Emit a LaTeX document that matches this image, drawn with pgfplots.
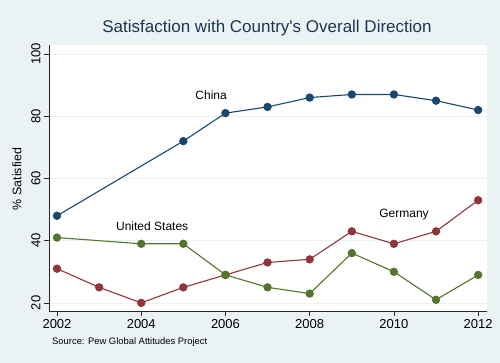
\documentclass[border=0pt]{standalone}
\usepackage{pgfplots}
\pgfplotsset{compat=1.18}
\usepackage{fontspec}
\setmainfont{Liberation Sans}
\definecolor{bgc}{HTML}{EAF2F3}
\definecolor{snavy}{HTML}{1A476F}
\definecolor{smaroon}{HTML}{90353B}
\definecolor{sgreen}{HTML}{55752F}
\definecolor{titlec}{HTML}{1E3550}
\definecolor{gridc}{HTML}{EAF2F3}
\begin{document}
\begin{tikzpicture}
\fill[bgc] (0,0) rectangle (500pt,363pt);
\useasboundingbox (0,0) rectangle (500pt,363pt);
\begin{axis}[
  at={(49pt,52pt)}, anchor=south west,
  scale only axis, width=438pt, height=266pt,
  xmin=2001.81, xmax=2012.21, ymin=17.4, ymax=102.9,
  axis x line=bottom, axis y line=left,
  axis line style={-, line width=0.8pt, black!85},
  axis background/.style={fill=white},
  xtick={2002,2004,2006,2008,2010,2012},
  ytick={20,40,60,80,100},
  xticklabel style={/pgf/number format/1000 sep={}, font=\fontsize{13}{13}\selectfont},
  yticklabel style={rotate=90, anchor=south, font=\fontsize{13}{13}\selectfont},
  /pgf/number format/assume math mode=true,
  tick style={black!85, line width=0.8pt},
  tick align=outside, major tick length=5pt,
  ymajorgrids, grid style={gridc, line width=0.8pt},
  every axis plot/.append style={line width=1.1pt, mark=*, mark size=3.6pt},
]
\addplot[color=snavy, mark options={fill=snavy, draw=snavy}] coordinates {
(2002,48) (2005,72) (2006,81) (2007,83) (2008,86) (2009,87) (2010,87) (2011,85) (2012,82)};
\addplot[color=smaroon, mark options={fill=smaroon, draw=smaroon}] coordinates {
(2002,31) (2003,25) (2004,20) (2005,25) (2006,29) (2007,33) (2008,34) (2009,43) (2010,39) (2011,43) (2012,53)};
\addplot[color=sgreen, mark options={fill=sgreen, draw=sgreen}] coordinates {
(2002,41) (2004,39) (2005,39) (2006,29) (2007,25) (2008,23) (2009,36) (2010,30) (2011,21) (2012,29)};
\node[font=\fontsize{12}{12}\selectfont] at (axis cs:2005.66,86.6) {China};
\node[font=\fontsize{12}{12}\selectfont] at (axis cs:2004.26,44.8) {United States};
\node[font=\fontsize{12}{12}\selectfont] at (axis cs:2010.24,48.3) {Germany};
\end{axis}
\node[font=\fontsize{17}{17}\selectfont, text=titlec] at (267pt,335pt) {Satisfaction with Country\textquotesingle s Overall Direction};
\node[font=\fontsize{9.4}{9.4}\selectfont, anchor=west, inner sep=0pt] at (52pt,21pt) {Source: Pew Global Attitudes Project};
\node[font=\fontsize{12.4}{12.4}\selectfont, rotate=90] at (17pt,184pt) {\% Satisfied};
\end{tikzpicture}
\end{document}
